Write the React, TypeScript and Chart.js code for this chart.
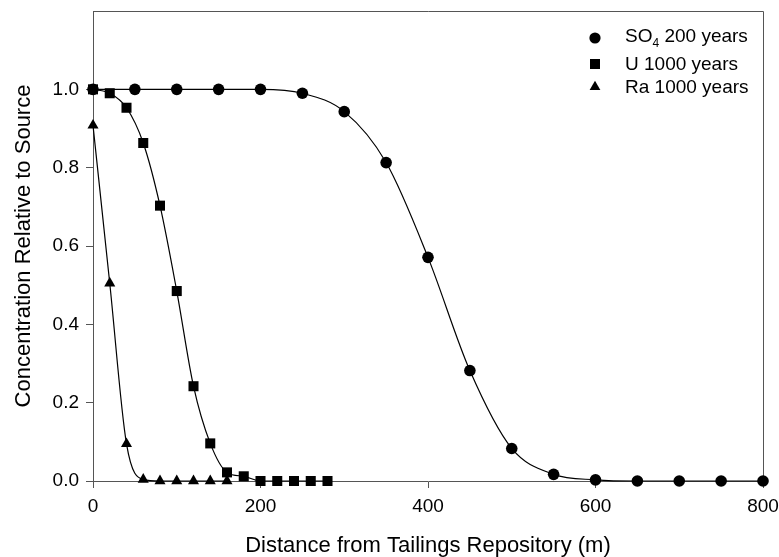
import React, { useEffect, useRef } from "react";
import { Chart, registerables } from "chart.js";

Chart.register(...registerables);

const FONT = "'Liberation Sans', Arial, Helvetica, sans-serif";

// SO4, 200 years
const so4Distance = [0, 50, 100, 150, 200, 250, 300, 350, 400, 450, 500, 550, 600, 650, 700, 750, 800];
const so4Conc = [1.0, 1.0, 1.0, 1.0, 1.0, 0.99, 0.943, 0.813, 0.571, 0.282, 0.083, 0.017, 0.003, 0, 0, 0, 0];

// U, 1000 years
const uDistance = [0, 20, 40, 60, 80, 100, 120, 140, 160, 180, 200, 220, 240, 260, 280];
const uConc = [1.0, 0.99, 0.953, 0.863, 0.703, 0.485, 0.242, 0.096, 0.022, 0.012, 0, 0, 0, 0, 0];

// Ra, 1000 years
const raDistance = [0, 20, 40, 60, 80, 100, 120, 140, 160];
const raConc = [0.908, 0.505, 0.095, 0.004, 0, 0, 0, 0, 0];

const xTitle = "Distance from Tailings Repository (m)";
const yTitle = "Concentration Relative to Source";

const legendItems = [
  { main: "SO", sub: "4", rest: " 200 years", shape: "circle" },
  { main: "U 1000 years", sub: "", rest: "", shape: "square" },
  { main: "Ra 1000 years", sub: "", rest: "", shape: "triangle" },
];

const toPoints = (xs: number[], ys: number[]) => xs.map((x, i) => ({ x, y: ys[i] }));

const framePlugin = {
  id: "frame",
  beforeDatasetsDraw(chart: any) {
    const { ctx, chartArea } = chart;
    ctx.save();
    ctx.strokeStyle = "#555";
    ctx.lineWidth = 1;
    ctx.beginPath();
    ctx.moveTo(chartArea.left, chartArea.top + 0.5);
    ctx.lineTo(chartArea.right + 0.5, chartArea.top + 0.5);
    ctx.lineTo(chartArea.right + 0.5, chartArea.bottom);
    ctx.stroke();
    ctx.restore();
  },
};

const legendPlugin = {
  id: "customLegend",
  afterDraw(chart: any) {
    const { ctx } = chart;
    const markerX = 595;
    const textX = 625;
    const rows = [38, 64, 87];
    const baselines = [42, 70, 93];
    ctx.save();
    ctx.fillStyle = "#000";
    legendItems.forEach((item, i) => {
      const cy = rows[i];
      ctx.beginPath();
      if (item.shape === "circle") {
        ctx.arc(markerX, cy, 5.6, 0, Math.PI * 2);
      } else if (item.shape === "square") {
        ctx.rect(markerX - 5, cy - 5, 10, 10);
      } else {
        const r = 6.2;
        ctx.moveTo(markerX, cy - r);
        ctx.lineTo(markerX + r * 0.866, cy + r * 0.5);
        ctx.lineTo(markerX - r * 0.866, cy + r * 0.5);
        ctx.closePath();
      }
      ctx.fill();
      ctx.textBaseline = "alphabetic";
      ctx.textAlign = "left";
      ctx.font = `19px ${FONT}`;
      let x = textX;
      ctx.fillText(item.main, x, baselines[i]);
      x += ctx.measureText(item.main).width;
      if (item.sub) {
        ctx.font = `12px ${FONT}`;
        ctx.fillText(item.sub, x, baselines[i] + 5);
        x += ctx.measureText(item.sub).width;
        ctx.font = `19px ${FONT}`;
        ctx.fillText(item.rest, x, baselines[i]);
      }
    });
    ctx.restore();
  },
};

export default function App() {
  const canvasRef = useRef<HTMLCanvasElement | null>(null);

  useEffect(() => {
    if (!canvasRef.current) return;
    const common = {
      borderColor: "#000",
      borderWidth: 1.2,
      backgroundColor: "#000",
      pointBackgroundColor: "#000",
      pointBorderColor: "#000",
      pointBorderWidth: 0,
      cubicInterpolationMode: "monotone" as const,
      clip: false as any,
      fill: false,
    };
    const chart = new Chart(canvasRef.current, {
      type: "line",
      data: {
        datasets: [
          { ...common, label: "SO4 200 years", data: toPoints(so4Distance, so4Conc), pointStyle: "circle", pointRadius: 5.8 },
          { ...common, label: "U 1000 years", data: toPoints(uDistance, uConc), pointStyle: "rect", pointRadius: 7.1 },
          { ...common, label: "Ra 1000 years", data: toPoints(raDistance, raConc), pointStyle: "triangle", pointRadius: 6.4 },
        ],
      },
      options: {
        animation: false,
        responsive: false,
        events: [],
        layout: { padding: { top: 11, right: 16, bottom: 0, left: 0 } },
        plugins: {
          legend: { display: false },
          tooltip: { enabled: false },
        },
        scales: {
          x: {
            type: "linear",
            min: 0,
            max: 800,
            ticks: {
              stepSize: 200,
              color: "#000",
              font: { family: FONT, size: 19 },
              padding: 7,
              maxRotation: 0,
            },
            grid: { drawOnChartArea: false, drawTicks: true, tickLength: 7, color: "#555" },
            border: { display: true, color: "#555", width: 1 },
            title: {
              display: true,
              text: xTitle,
              color: "#000",
              font: { family: FONT, size: 22, lineHeight: 1 },
              padding: { top: 0, bottom: 0 },
            },
            afterFit: (s: any) => {
              s.height = 76;
              s.paddingLeft = 0;
              s.paddingRight = 0;
            },
          },
          y: {
            type: "linear",
            min: 0,
            max: 1.2,
            ticks: {
              stepSize: 0.2,
              color: "#000",
              font: { family: FONT, size: 19 },
              padding: 7,
              callback: (v: any) => Number(v).toFixed(1),
            },
            afterBuildTicks: (s: any) => {
              s.ticks = s.ticks.filter((t: any) => t.value <= 1.0001);
            },
            grid: { drawOnChartArea: false, drawTicks: true, tickLength: 7, color: "#555" },
            border: { display: true, color: "#555", width: 1 },
            title: {
              display: true,
              text: yTitle,
              color: "#000",
              font: { family: FONT, size: 22, lineHeight: 1 },
              padding: { top: 13, bottom: 0 },
            },
            afterFit: (s: any) => {
              s.width = 93;
              s.paddingTop = 0;
              s.paddingBottom = 0;
            },
          },
        },
      },
      plugins: [framePlugin, legendPlugin],
    });
    return () => chart.destroy();
  }, []);

  return (
    <div style={{ position: "absolute", left: 0, top: 0, width: 779, height: 557, background: "#fff" }}>
      <canvas ref={canvasRef} width={779} height={557} style={{ display: "block" }} />
    </div>
  );
}
